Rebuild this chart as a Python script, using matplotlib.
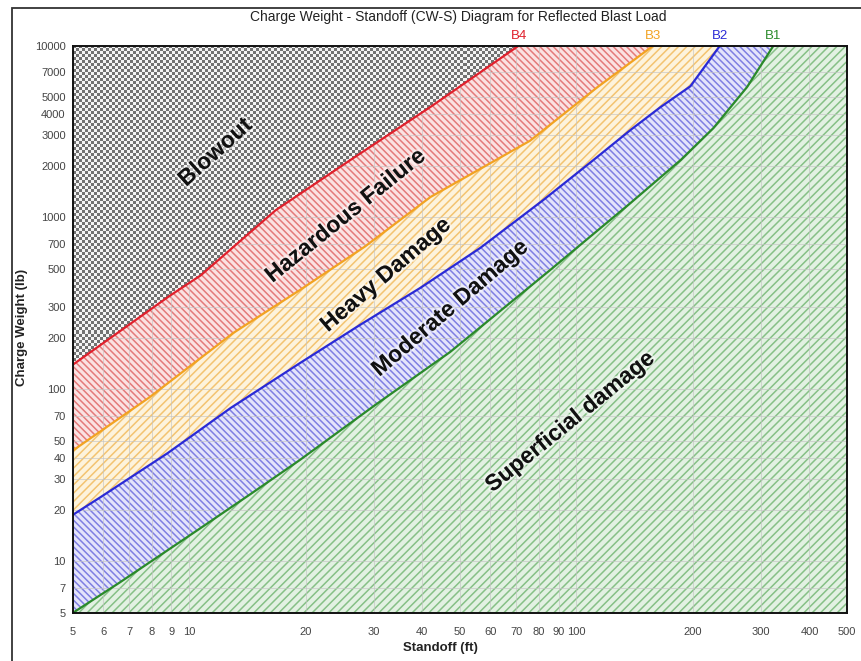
import numpy as np
import matplotlib
matplotlib.use("Agg")
import matplotlib.pyplot as plt
import matplotlib.patheffects as pe
from matplotlib.patches import Rectangle
from matplotlib.colors import ListedColormap
from matplotlib.ticker import FixedLocator, FixedFormatter, NullLocator
from matplotlib.transforms import blended_transform_factory

plt.rcParams['font.family'] = ['Liberation Sans', 'DejaVu Sans']
plt.rcParams['hatch.linewidth'] = 1.1

# Damage boundary curves: standoff (ft) against charge weight (lb)
b4_standoff = [5, 8.9, 10.7, 16.7, 26, 42, 71]
b4_weight = [139, 350, 460, 1100, 2150, 4400, 10000]
b3_standoff = [5, 7.9, 13.0, 19.3, 28.5, 42, 76, 113, 158]
b3_weight = [44, 90, 213, 378, 680, 1316, 2800, 5700, 10000]
b2_standoff = [5, 5.9, 8.8, 12.8, 19.3, 27.6, 39.5, 56.4, 82, 109, 138, 165, 197, 235]
b2_weight = [18.6, 23.6, 42.6, 78, 142, 237, 389, 664, 1260, 2100, 3230, 4390, 5800, 10000]
b1_standoff = [5, 6.6, 8.8, 10.7, 14.4, 19.3, 30.2, 47.2, 85.6, 138, 186, 226, 276, 323]
b1_weight = [5, 7.5, 11.6, 15.6, 24.6, 38.8, 81, 165, 495, 1214, 2160, 3315, 5740, 10000]

boundary_names = ['B4', 'B3', 'B2', 'B1']
region_names = ['Blowout', 'Hazardous Failure', 'Heavy Damage',
                'Moderate Damage', 'Superficial damage']

x_ticks = [5, 6, 7, 8, 9, 10, 20, 30, 40, 50, 60, 70, 80, 90, 100,
           200, 300, 400, 500]
y_ticks = [5, 7, 10, 20, 30, 40, 50, 70, 100, 200, 300, 500, 700,
           1000, 2000, 3000, 4000, 5000, 7000, 10000]

X_MIN, X_MAX = 5, 500
Y_MIN, Y_MAX = 5, 10000

line_colors = ['#e0202c', '#f2a322', '#2a2ad6', '#2a8a2a']
fill_colors = ['#fbe2e2', '#fdf3dc', '#e4e4fb', '#e2f1e2']
hatch_colors = ['#e47a7a', '#f3c370', '#7f7fe2', '#86c086']
hatches = ['\\\\\\\\\\', '////', '\\\\\\\\\\', '////']

fig = plt.figure(figsize=(8.61, 6.61), dpi=100)
ax = fig.add_axes([0.0844, 0.0726, 0.8993, 0.8584])
ax.set_xscale('log')
ax.set_yscale('log')

curves = [(b4_standoff, b4_weight), (b3_standoff, b3_weight),
          (b2_standoff, b2_weight), (b1_standoff, b1_weight)]

# Blowout zone above B4: checkered texture clipped to the zone
blow_x = b4_standoff + [X_MIN]
blow_y = b4_weight + [Y_MAX]
blow_poly = ax.fill(blow_x, blow_y, facecolor='#a8a8a8', edgecolor='none',
                    linewidth=0, zorder=1)[0]
ny, nx = 189, 258
checker = (np.add.outer(np.arange(ny), np.arange(nx)) % 2).astype(float)
img = ax.imshow(checker, cmap=ListedColormap(['#727272', '#f4f4f4']),
                extent=[0, 1, 0, 1], transform=ax.transAxes,
                interpolation='nearest', aspect='auto', zorder=2.6)
img.set_clip_path(blow_poly)

# Bands between consecutive boundaries
for i in range(3):
    ux, uy = curves[i]
    lx, ly = curves[i + 1]
    ax.fill(list(ux) + list(lx)[::-1], list(uy) + list(ly)[::-1],
            facecolor=fill_colors[i], edgecolor=hatch_colors[i],
            hatch=hatches[i], linewidth=0, zorder=1)

# Superficial zone below B1
sx = b1_standoff + [X_MAX, X_MAX]
sy = b1_weight + [Y_MAX, Y_MIN]
ax.fill(sx, sy, facecolor=fill_colors[3], edgecolor=hatch_colors[3],
        hatch=hatches[3], linewidth=0, zorder=1)

# Boundary lines
for (xs, ys), c in zip(curves, line_colors):
    ax.plot(xs, ys, color=c, linewidth=1.6, zorder=3,
            solid_joinstyle='round', solid_capstyle='round')

ax.set_xlim(X_MIN, X_MAX)
ax.set_ylim(Y_MIN, Y_MAX)

ax.xaxis.set_major_locator(FixedLocator(x_ticks))
ax.xaxis.set_major_formatter(FixedFormatter([str(v) for v in x_ticks]))
ax.xaxis.set_minor_locator(NullLocator())
ax.yaxis.set_major_locator(FixedLocator(y_ticks))
ax.yaxis.set_major_formatter(FixedFormatter([str(v) for v in y_ticks]))
ax.yaxis.set_minor_locator(NullLocator())
ax.tick_params(length=0, labelsize=8, labelcolor='#444444')
ax.tick_params(axis='x', pad=10)
ax.tick_params(axis='y', pad=5)

ax.set_axisbelow(False)
ax.grid(True, color='#c4c4c4', linewidth=0.7, alpha=0.65)
for s in ax.spines.values():
    s.set_linewidth(1.4)
    s.set_color('#111111')
    s.set_zorder(5)

# Boundary names above the top edge
top_tr = blended_transform_factory(ax.transData, ax.transAxes)
for (xs, ys), name, c in zip(curves, boundary_names, line_colors):
    ax.text(xs[-1], 1.006, name, transform=top_tr, ha='center', va='bottom',
            color=c, fontsize=9.5, clip_on=False)

# Zone names
label_pos = [(0.184, 0.812, 42), (0.352, 0.700, 39), (0.404, 0.596, 40.5),
             (0.487, 0.537, 40.5), (0.642, 0.337, 39)]
halo = [pe.withStroke(linewidth=3, foreground='white', alpha=0.55)]
for name, (fx, fy, rot) in zip(region_names, label_pos):
    ax.text(fx, fy, name, transform=ax.transAxes, rotation=rot,
            rotation_mode='anchor', ha='center', va='center',
            fontsize=16.5, fontweight='bold', color='#111111',
            path_effects=halo, zorder=6)

fig.text(0.532, 0.974, 'Charge Weight - Standoff (CW-S) Diagram for Reflected Blast Load',
         ha='center', va='center', fontsize=10, color='#222222')
fig.text(0.511, 0.019, 'Standoff (ft)', ha='center', va='center',
         fontsize=9.5, fontweight='bold', color='#222222')
fig.text(0.026, 0.505, 'Charge Weight (lb)', ha='center', va='center',
         rotation=90, fontsize=9.5, fontweight='bold', color='#222222')

# Outer frame around the chart
fig.add_artist(Rectangle((0.0139, -0.2), 1.3, 1.188, transform=fig.transFigure,
                         fill=False, edgecolor='#333333', linewidth=1.3))

fig.savefig('out.png', dpi=100)
